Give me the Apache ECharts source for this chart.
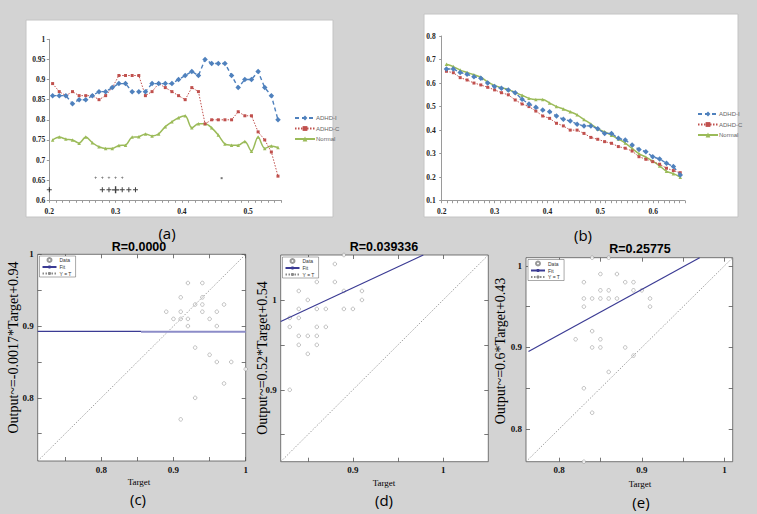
<!DOCTYPE html>
<html><head><meta charset="utf-8">
<script src="https://cdn.jsdelivr.net/npm/echarts@6/dist/echarts.min.js"></script>
<style>html,body{margin:0;padding:0;background:#d3d3d3}#c{width:757px;height:514px}</style>
</head><body><div id="c"></div>
<script>
// ---------- panel (a) ----------
const xA = [0.205,0.215,0.225,0.235,0.245,0.255,0.265,0.275,0.285,0.295,0.305,0.315,0.325,0.335,0.345,0.355,0.365,0.375,0.385,0.395,0.405,0.415,0.425,0.435,0.445,0.455,0.465,0.475,0.485,0.495,0.505,0.515,0.525,0.535,0.545];
const aI = [0.86,0.86,0.86,0.84,0.85,0.85,0.86,0.87,0.87,0.88,0.89,0.89,0.87,0.87,0.87,0.89,0.89,0.89,0.89,0.90,0.91,0.92,0.91,0.95,0.94,0.94,0.94,0.91,0.88,0.90,0.90,0.92,0.88,0.86,0.80];
const aC = [0.89,0.87,0.86,0.87,0.86,0.86,0.86,0.85,0.86,0.88,0.91,0.91,0.91,0.91,0.86,0.87,0.89,0.88,0.87,0.86,0.85,0.88,0.87,0.79,0.80,0.80,0.80,0.80,0.82,0.81,0.81,0.77,0.75,0.72,0.66];
const aN = [0.75,0.757,0.752,0.75,0.742,0.757,0.743,0.733,0.729,0.729,0.736,0.737,0.757,0.758,0.765,0.76,0.765,0.783,0.795,0.805,0.81,0.78,0.79,0.79,0.78,0.762,0.74,0.737,0.737,0.746,0.722,0.757,0.729,0.735,0.731];
const sigSmallX = [0.27,0.28,0.29,0.30,0.31];
const sigSmallY = 0.656;
const sigPlusX = [0.20,0.28,0.29,0.31,0.32,0.33];
const sigBigX = [0.30];
const sigPlusY = 0.626;
const sigDot = [[0.46,0.655]];
const aXLabels = [0.2,0.3,0.4,0.5];
// ---------- panel (b) ----------
const xB = [0.209,0.222,0.235,0.248,0.261,0.274,0.287,0.300,0.313,0.326,0.339,0.352,0.365,0.378,0.391,0.404,0.417,0.430,0.443,0.456,0.469,0.482,0.495,0.508,0.521,0.534,0.547,0.560,0.573,0.586,0.599,0.612,0.625,0.638,0.651];
const bI = [0.66,0.66,0.645,0.637,0.627,0.62,0.60,0.585,0.578,0.571,0.559,0.531,0.511,0.497,0.485,0.478,0.46,0.446,0.439,0.425,0.418,0.418,0.406,0.386,0.386,0.365,0.358,0.337,0.318,0.308,0.287,0.277,0.259,0.245,0.209];
const bC = [0.65,0.644,0.623,0.613,0.60,0.592,0.582,0.571,0.559,0.55,0.528,0.511,0.50,0.481,0.46,0.45,0.429,0.418,0.40,0.40,0.386,0.369,0.361,0.351,0.344,0.33,0.323,0.311,0.287,0.276,0.266,0.255,0.238,0.228,0.219];
const bN = [0.68,0.67,0.655,0.645,0.635,0.625,0.605,0.59,0.58,0.572,0.56,0.548,0.535,0.53,0.53,0.515,0.50,0.49,0.478,0.465,0.445,0.426,0.405,0.393,0.378,0.362,0.345,0.322,0.30,0.285,0.268,0.248,0.225,0.215,0.20];
const bXLabels = [0.2,0.3,0.4,0.5,0.6];
// ---------- panel (c) ----------
const cX = [0.89,0.90,0.91,0.91,0.91,0.91,0.92,0.92,0.92,0.93,0.93,0.93,0.94,0.94,0.94,0.94,0.95,0.95,0.96,0.96,0.96,0.97,0.97,0.98,1.00];
const cY = [0.92,0.91,0.94,0.92,0.91,0.77,0.96,0.91,0.90,0.93,0.87,0.80,0.96,0.94,0.93,0.92,0.91,0.86,0.92,0.90,0.85,0.93,0.82,0.85,0.84];
const cFitA = [[0.712,0.8925],[0.855,0.8925]];
const cFitB = [[0.855,0.892],[1.0,0.892]];
const cRange = [0.712,1.0];
const cTicks = [0.75,0.8,0.85,0.9,0.95,1.0];
const cLabels = [0.8,0.9,1.0];
// ---------- panel (d) ----------
const dX = [0.83,0.83,0.83,0.84,0.84,0.84,0.84,0.84,0.85,0.85,0.85,0.86,0.86,0.86,0.86,0.86,0.87,0.87,0.88,0.88,0.89,0.89,0.89,0.90,0.91,0.91];
const dY = [0.98,0.97,0.90,1.01,0.99,0.98,0.96,0.95,1.00,0.96,0.94,1.02,0.99,0.97,0.96,0.95,0.99,0.97,1.04,1.02,1.05,1.01,0.99,0.99,1.01,1.00];
const dFit = [[0.82,0.976],[0.978,1.05]];
const dRange = [0.82,1.05];
const dTicks = [0.85,0.9,0.95,1.0];
const dLabels = [0.9,1.0];
// ---------- panel (e) ----------
const eX = [0.82,0.83,0.83,0.83,0.83,0.83,0.84,0.84,0.84,0.84,0.84,0.85,0.85,0.85,0.85,0.85,0.86,0.86,0.86,0.86,0.87,0.87,0.88,0.88,0.89,0.89,0.89,0.90,0.91,0.91];
const eY = [0.91,0.98,0.96,0.95,0.85,0.76,1.01,0.96,0.92,0.90,0.82,0.99,0.97,0.96,0.91,0.90,1.01,0.97,0.96,0.87,0.99,0.96,0.98,0.90,0.98,0.97,0.89,0.97,0.96,0.95];
const eFit = [[0.763,0.895],[0.97,1.01]];
const eRange = [0.76,1.01];
const eTicks = [0.8,0.85,0.9,0.95,1.0];
const eLabels = [0.8,0.9,1.0];

const zip = (xs, ys) => xs.map((x, i) => [x, ys[i]]);
const BLUE = '#4f81bd', RED = '#c0504d', GREEN = '#9bbb59';
const SERIF = 'Liberation Serif';
const plusPath = 'path://M4,0H6V4H10V6H6V10H4V6H0V4H4Z';

function excelX(gi, min, max, labels) {
  return {type:'value', gridIndex:gi, min:min, max:max, interval:0.01,
    axisLine:{show:true, lineStyle:{color:'#9a9a9a', width:1}},
    axisTick:{show:true, length:2.5, lineStyle:{color:'#9a9a9a'}},
    axisLabel:{customValues:labels, fontFamily:SERIF, fontWeight:'bold', fontSize:7.5, color:'#222', margin:7},
    splitLine:{show:false}};
}
function excelY(gi, min, max, interval, margin) {
  return {type:'value', gridIndex:gi, min:min, max:max, interval:interval,
    axisLine:{show:true, lineStyle:{color:'#9a9a9a', width:1}},
    axisTick:{show:true, length:2.5, lineStyle:{color:'#9a9a9a'}},
    axisLabel:{fontFamily:SERIF, fontWeight:'bold', fontSize:7.5, color:'#222', margin:margin},
    splitLine:{show:false}};
}
function boxAxis(gi, range, ticks, labels, pos, showLabel) {
  return {type:'value', gridIndex:gi, min:range[0], max:range[1], position:pos,
    axisLine:{show:false},
    axisTick:{show:true, inside:true, length:4, customValues:ticks, lineStyle:{color:'#555', width:0.8}},
    axisLabel:{show:showLabel, customValues:labels, fontFamily:SERIF, fontWeight:'bold', fontSize:9, color:'#111', margin:4},
    splitLine:{show:false}};
}
function lineSeries(name, xi, xs, ys, color, symbol, size, ltype, width, smooth) {
  return {name:name, type:'line', xAxisIndex:xi, yAxisIndex:xi, data:zip(xs, ys),
    symbol:symbol, symbolSize:size, showSymbol:true, smooth:smooth || false,
    itemStyle:{color:color}, lineStyle:{color:color, width:width, type:ltype}, z:3};
}
function regSeries(gi, xs, ys, fit, range, extraFit) {
  const s = [
    {name:'Y = T', type:'line', xAxisIndex:gi, yAxisIndex:gi, data:[[range[0],range[0]],[range[1],range[1]]],
     symbol:'none', lineStyle:{color:'#8a8a8a', width:0.8, type:[1.5,1.5]}, itemStyle:{color:'#8a8a8a'}},
    {name:'Fit', type:'line', xAxisIndex:gi, yAxisIndex:gi, data:fit,
     symbol:'none', lineStyle:{color:'#3b3b94', width:1.2}, itemStyle:{color:'#3b3b94'}},
    {name:'Data', type:'scatter', xAxisIndex:gi, yAxisIndex:gi, data:zip(xs, ys),
     symbol:'circle', symbolSize:3.6, itemStyle:{color:'#fff', borderColor:'#808080', borderWidth:0.6}}
  ];
  if (extraFit) s.push({name:'fit-b', type:'line', xAxisIndex:gi, yAxisIndex:gi, data:extraFit,
     symbol:'none', lineStyle:{color:'#8c8cc8', width:2}, itemStyle:{color:'#8c8cc8'}});
  return s;
}
function regLegend(left, top) {
  return {data:['Data','Fit','Y = T'], left:left, top:top, orient:'vertical',
    itemWidth:14, itemHeight:4, itemGap:1.5, selectedMode:false,
    textStyle:{fontSize:5, color:'#333', fontFamily:'Liberation Sans', padding:[0,0,0,-2]},
    borderColor:'#555', borderWidth:0.5, backgroundColor:'#fff', padding:[1,4,1,2]};
}
function excelLegend(left, top) {
  return {data:['ADHD-I','ADHD-C','Normal'], left:left, top:top, orient:'vertical',
    itemWidth:20, itemHeight:6, itemGap:4.5, selectedMode:false,
    textStyle:{fontSize:6, color:'#666', fontFamily:'Liberation Sans', padding:[0,0,0,-4]}};
}
function txt(x, y, text, font, extra) {
  return Object.assign({type:'text', x:x, y:y, z:20,
    style:Object.assign({text:text, fill:'#000', align:'center', verticalAlign:'middle'}, font)}, extra || {});
}

const chart = echarts.init(document.getElementById('c'), null, {renderer:'svg', width:757, height:514});
const option = {
  backgroundColor:'#d3d3d3',
  animation:false,
  grid:[
    {left:49.3, top:39.3, width:232, height:161},
    {left:441.7, top:36, width:243.3, height:164.7},
    {left:37.7, top:254.3, width:208, height:206.7, show:true, backgroundColor:'#fff', borderColor:'#555', borderWidth:0.8},
    {left:280.7, top:255, width:207.6, height:206.7, show:true, backgroundColor:'#fff', borderColor:'#555', borderWidth:0.8},
    {left:526, top:257.7, width:206.7, height:204, show:true, backgroundColor:'#fff', borderColor:'#555', borderWidth:0.8}
  ],
  xAxis:[
    excelX(0, 0.2, 0.55, aXLabels),
    excelX(1, 0.2, 0.66, bXLabels),
    boxAxis(2, cRange, cTicks, cLabels, 'bottom', true),
    boxAxis(3, dRange, dTicks, dLabels, 'bottom', true),
    boxAxis(4, eRange, eTicks, eLabels, 'bottom', true),
    boxAxis(2, cRange, cTicks, cLabels, 'top', false),
    boxAxis(3, dRange, dTicks, dLabels, 'top', false),
    boxAxis(4, eRange, eTicks, eLabels, 'top', false)
  ],
  yAxis:[
    excelY(0, 0.6, 1.0, 0.05, 4),
    excelY(1, 0.1, 0.8, 0.1, 6),
    boxAxis(2, cRange, cTicks, cLabels, 'left', true),
    boxAxis(3, dRange, dTicks, dLabels, 'left', true),
    boxAxis(4, eRange, eTicks, eLabels, 'left', true),
    boxAxis(2, cRange, cTicks, cLabels, 'right', false),
    boxAxis(3, dRange, dTicks, dLabels, 'right', false),
    boxAxis(4, eRange, eTicks, eLabels, 'right', false)
  ],
  legend:[excelLegend(289, 110), excelLegend(692, 106), regLegend(39.5, 256), regLegend(282.5, 257), regLegend(528, 259.5)],
  series:[
    lineSeries('Normal', 0, xA, aN, GREEN, 'triangle', 3.5, 'solid', 1.5, 0.3),
    lineSeries('ADHD-C', 0, xA, aC, RED, 'rect', 3, [1.5,1.5], 1, false),
    lineSeries('ADHD-I', 0, xA, aI, BLUE, 'diamond', 5.5, [4,3], 1.4, false),
    {type:'scatter', xAxisIndex:0, yAxisIndex:0, data:sigSmallX.map(x => [x, sigSmallY]), symbol:plusPath, symbolSize:2.5, itemStyle:{color:'#333'}},
    {type:'scatter', xAxisIndex:0, yAxisIndex:0, data:sigPlusX.map(x => [x, sigPlusY]), symbol:plusPath, symbolSize:5, itemStyle:{color:'#111'}},
    {type:'scatter', xAxisIndex:0, yAxisIndex:0, data:sigBigX.map(x => [x, sigPlusY]), symbol:plusPath, symbolSize:7, itemStyle:{color:'#111'}},
    {type:'scatter', xAxisIndex:0, yAxisIndex:0, data:sigDot, symbol:'rect', symbolSize:2, itemStyle:{color:'#555'}},
    lineSeries('Normal', 1, xB, bN, GREEN, 'triangle', 3.5, 'solid', 1.5, 0.3),
    lineSeries('ADHD-C', 1, xB, bC, RED, 'rect', 3, [1.5,1.5], 1, false),
    lineSeries('ADHD-I', 1, xB, bI, BLUE, 'diamond', 5.5, [4,3], 1.4, false)
  ].concat(regSeries(2, cX, cY, cFitA, cRange, cFitB), regSeries(3, dX, dY, dFit, dRange), regSeries(4, eX, eY, eFit, eRange)),
  graphic:[
    {type:'rect', z:-10, shape:{x:26, y:20, width:307, height:197}, style:{fill:'#fff', stroke:'#c4c4c4', lineWidth:1}},
    {type:'rect', z:-10, shape:{x:424, y:14, width:314, height:203}, style:{fill:'#fff', stroke:'#c4c4c4', lineWidth:1}},
    txt(167, 233, '(a)', {fontSize:15, fontFamily:'Open Sans'}),
    txt(583, 235, '(b)', {fontSize:15, fontFamily:'Open Sans'}),
    txt(138, 499, '(c)', {fontSize:15, fontFamily:'Open Sans'}),
    txt(384, 500, '(d)', {fontSize:15, fontFamily:'Open Sans'}),
    txt(641, 502, '(e)', {fontSize:15, fontFamily:'Open Sans'}),
    txt(139, 246.5, 'R=0.0000', {fontSize:12.5, fontWeight:'bold', fontFamily:'Liberation Sans'}),
    txt(384, 247, 'R=0.039336', {fontSize:12.5, fontWeight:'bold', fontFamily:'Liberation Sans'}),
    txt(640, 249, 'R=0.25775', {fontSize:12.5, fontWeight:'bold', fontFamily:'Liberation Sans'}),
    txt(139, 482, 'Target', {fontSize:9, fontFamily:SERIF}),
    txt(384, 482.5, 'Target', {fontSize:9, fontFamily:SERIF}),
    txt(640, 484, 'Target', {fontSize:9, fontFamily:SERIF}),
    txt(13.5, 347.5, 'Output~=-0.0017*Target+0.94', {fontSize:14, fontFamily:SERIF}, {rotation:Math.PI/2}),
    txt(262, 358, 'Output~=0.52*Target+0.54', {fontSize:14, fontFamily:SERIF}, {rotation:Math.PI/2}),
    txt(500, 351, 'Output~=0.6*Target+0.43', {fontSize:14, fontFamily:SERIF}, {rotation:Math.PI/2})
  ]
};
chart.setOption(option);
</script></body></html>
